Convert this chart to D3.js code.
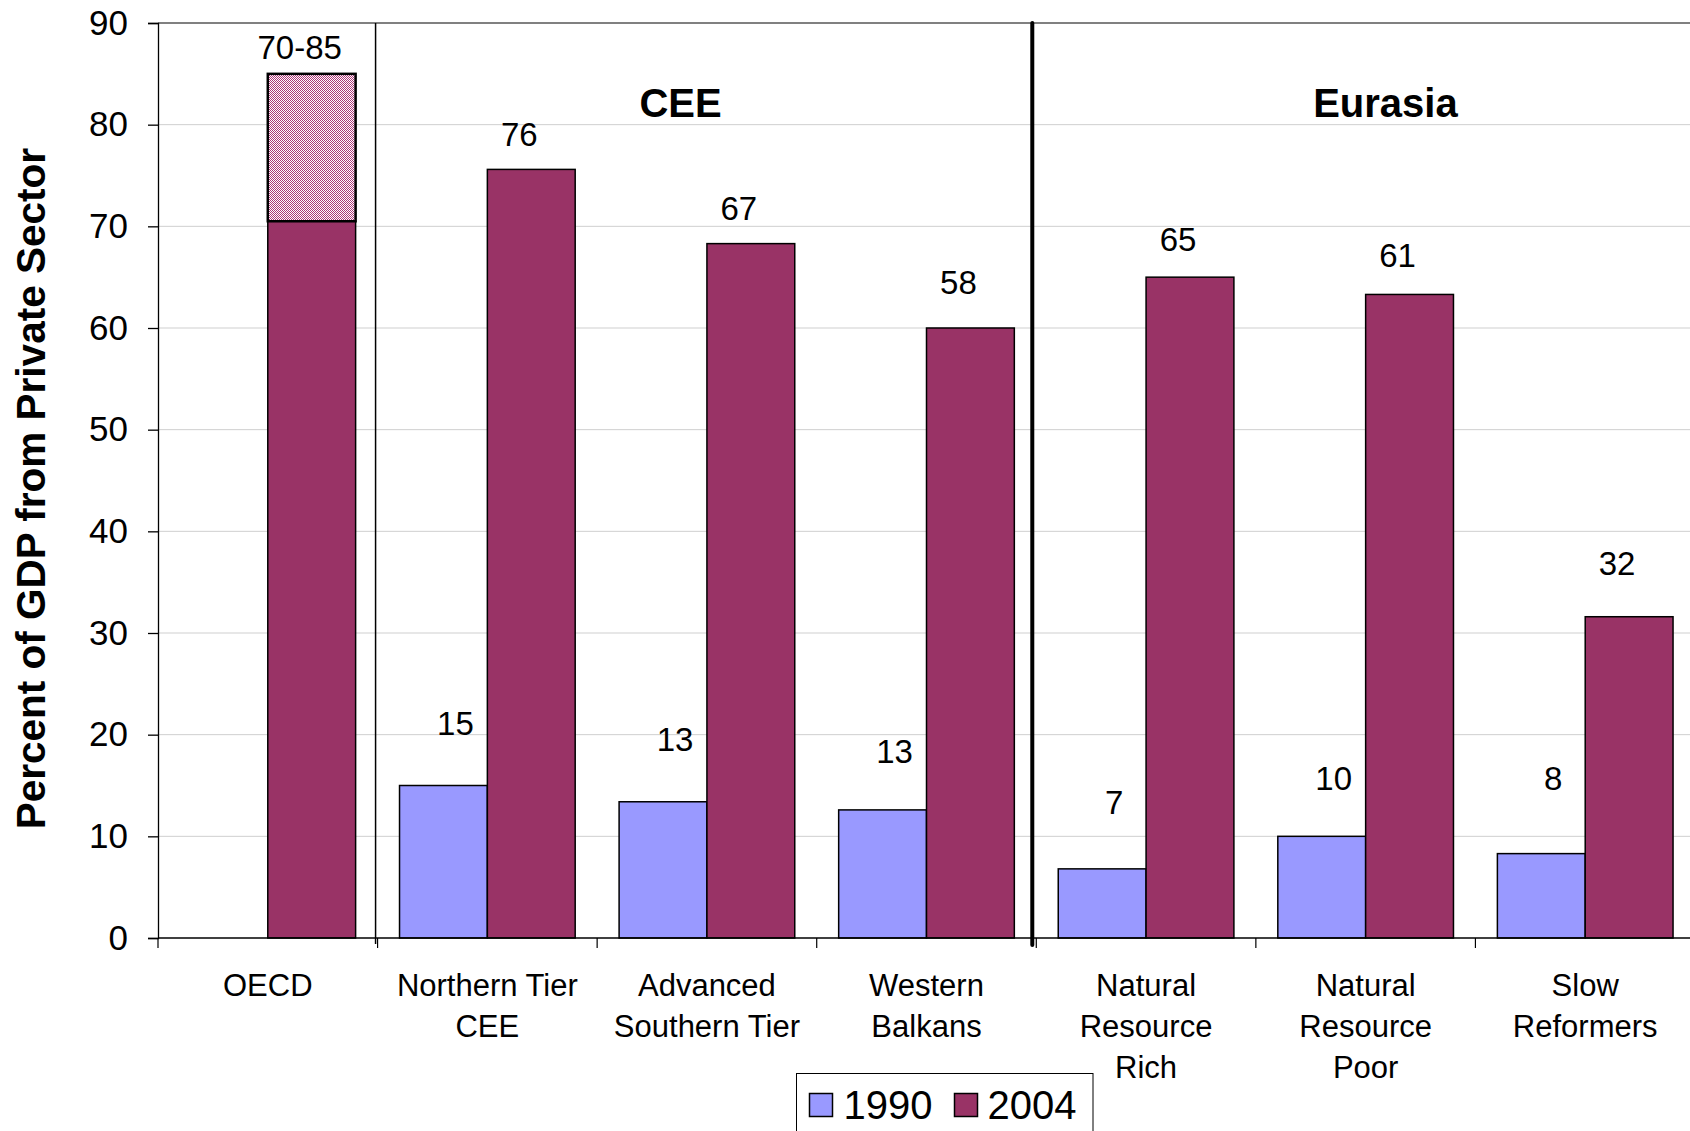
<!DOCTYPE html>
<html>
<head>
<meta charset="utf-8">
<script src="https://cdn.jsdelivr.net/npm/d3@7"></script>
<style>
  body { margin: 0; background: #fff; }
  text { font-family: "Liberation Sans", Arial, sans-serif; fill: #000; }
</style>
</head>
<body>
<svg id="chart"></svg>
<script>
// data
const categories = ["OECD", "Northern Tier CEE", "Advanced Southern Tier", "Western Balkans",
                    "Natural Resource Rich", "Natural Resource Poor", "Slow Reformers"];
const categoryLines = [["OECD"], ["Northern Tier", "CEE"], ["Advanced", "Southern Tier"],
                       ["Western", "Balkans"], ["Natural", "Resource", "Rich"],
                       ["Natural", "Resource", "Poor"], ["Slow", "Reformers"]];
const series = ["1990", "2004"];
const values1990 = [null, 15.0, 13.4, 12.6, 6.8, 10.0, 8.3];
const values2004 = [70.5, 75.6, 68.3, 60.0, 65.0, 63.3, 31.6];
const oecdRange = [70.5, 85];
const labels1990 = ["", "15", "13", "13", "7", "10", "8"];
const labels2004 = ["70-85", "76", "67", "58", "65", "61", "32"];
const labelAt1990 = [null, 21.1, 19.5, 18.3, 13.3, 15.7, 15.7];
const labelAt2004 = [87.6, 79.0, 71.8, 64.5, 68.7, 67.1, 36.8];
const groupNames = ["CEE", "Eurasia"];
const groupAt = [2.38, 5.59];     // in category units
const groupStart = [1, 4];        // first category of each group (separator)
const yTicks = [0, 10, 20, 30, 40, 50, 60, 70, 80, 90];

const width = 1690, height = 1131;
const margin = { left: 158, top: 23, bottom: 193 };
const colors = { "1990": "#9999ff", "2004": "#993366" };

const svg = d3.select("#chart").attr("width", width).attr("height", height);
svg.append("rect").attr("width", width).attr("height", height).attr("fill", "#fff");

const defs = svg.append("defs");
const pat = defs.append("pattern").attr("id", "dots")
    .attr("width", 2).attr("height", 2).attr("patternUnits", "userSpaceOnUse");
pat.append("rect").attr("width", 2).attr("height", 2).attr("fill", "#fff");
pat.append("rect").attr("width", 1).attr("height", 1).attr("fill", "#ad3777");
pat.append("rect").attr("x", 1).attr("y", 1).attr("width", 1).attr("height", 1).attr("fill", "#ad3777");

const plotRight = 1695;
const x = d3.scaleBand().domain(categories).range([margin.left, plotRight]);
const xi = d3.scaleLinear().domain([0, categories.length]).range([margin.left, plotRight]);
const x1 = d3.scaleBand().domain(series).range([0, x.bandwidth()]).paddingOuter(0.25);
const y = d3.scaleLinear().domain([0, 90]).range([height - margin.bottom, margin.top]);

// gridlines
svg.append("g").selectAll("line").data(yTicks.filter(d => d > 0 && d < 90)).join("line")
    .attr("x1", margin.left).attr("x2", width)
    .attr("y1", d => y(d)).attr("y2", d => y(d))
    .attr("stroke", "#cfcfcf").attr("stroke-width", 1);
svg.append("line").attr("x1", margin.left).attr("x2", width)
    .attr("y1", y(90)).attr("y2", y(90))
    .attr("stroke", "#808080").attr("stroke-width", 2);

// bars
const bars = svg.append("g").attr("stroke", "#000").attr("stroke-width", 1.5);
bars.selectAll(".b1990").data(categories.map((c, i) => ({ c, v: values1990[i] })).filter(d => d.v != null))
  .join("rect")
    .attr("x", d => x(d.c) + x1("1990")).attr("width", x1.bandwidth())
    .attr("y", d => y(d.v)).attr("height", d => y(0) - y(d.v))
    .attr("fill", colors["1990"]);
bars.selectAll(".b2004").data(categories.map((c, i) => ({ c, v: values2004[i] })))
  .join("rect")
    .attr("x", d => x(d.c) + x1("2004")).attr("width", x1.bandwidth())
    .attr("y", d => y(d.v)).attr("height", d => y(0) - y(d.v))
    .attr("fill", colors["2004"]);
// OECD range on top
svg.append("rect")
    .attr("x", x("OECD") + x1("2004")).attr("width", x1.bandwidth())
    .attr("y", y(oecdRange[1])).attr("height", y(oecdRange[0]) - y(oecdRange[1]))
    .attr("fill", "url(#dots)").attr("stroke", "#000").attr("stroke-width", 2.5);

// group separators
svg.append("line")
    .attr("x1", xi(groupStart[0]) - 2).attr("x2", xi(groupStart[0]) - 2)
    .attr("y1", y(90)).attr("y2", y(0) + 6)
    .attr("stroke", "#000").attr("stroke-width", 1.5);
svg.append("line")
    .attr("x1", xi(groupStart[1]) - 4).attr("x2", xi(groupStart[1]) - 4)
    .attr("y1", y(90)).attr("y2", y(0) + 7)
    .attr("stroke", "#000").attr("stroke-width", 4).attr("stroke-linecap", "round");

// y axis
const yAxis = svg.append("g").attr("transform", `translate(${margin.left},0)`)
    .call(d3.axisLeft(y).tickValues(yTicks).tickSize(10).tickPadding(20));
yAxis.select(".domain").attr("stroke", "#000").attr("stroke-width", 1.3);
yAxis.selectAll(".tick line").attr("stroke", "#000").attr("stroke-width", 1.3);
yAxis.selectAll(".tick text").attr("font-size", 35).attr("font-family", null).attr("fill", "#000");

// x axis
svg.append("line").attr("x1", margin.left).attr("x2", width)
    .attr("y1", y(0)).attr("y2", y(0)).attr("stroke", "#000").attr("stroke-width", 1.5);
svg.append("g").selectAll("line").data(d3.range(categories.length)).join("line")
    .attr("x1", d => xi(d)).attr("x2", d => xi(d))
    .attr("y1", y(0)).attr("y2", y(0) + 10)
    .attr("stroke", "#000").attr("stroke-width", 1.2);
const xl = svg.append("g").selectAll("text").data(categories).join("text")
    .attr("text-anchor", "middle").attr("font-size", 31)
    .attr("x", d => x(d) + x.bandwidth() / 2);
xl.selectAll("tspan").data((d, i) => categoryLines[i]).join("tspan")
    .attr("x", function () { return this.parentNode.getAttribute("x"); })
    .attr("y", (d, j) => 985 + j * 41)
    .attr("dominant-baseline", "central")
    .text(d => d);

// value labels
const shift = 12;
svg.append("g").selectAll("text").data(categories.map((c, i) => ({ c, t: labels1990[i], at: labelAt1990[i] })).filter(d => d.t))
  .join("text")
    .attr("x", d => x(d.c) + x1("1990") + x1.bandwidth() / 2 + shift)
    .attr("y", d => y(d.at)).attr("dominant-baseline", "central")
    .attr("text-anchor", "middle").attr("font-size", 33).text(d => d.t);
svg.append("g").selectAll("text").data(categories.map((c, i) => ({ c, t: labels2004[i], at: labelAt2004[i] })))
  .join("text")
    .attr("x", d => x(d.c) + x1("2004") + x1.bandwidth() / 2 - shift)
    .attr("y", d => y(d.at)).attr("dominant-baseline", "central")
    .attr("text-anchor", "middle").attr("font-size", 33).text(d => d.t);

// group labels
svg.append("g").selectAll("text").data(groupNames).join("text")
    .attr("x", (d, i) => xi(groupAt[i])).attr("y", y(82.1))
    .attr("dominant-baseline", "central").attr("text-anchor", "middle")
    .attr("font-size", 40).attr("font-weight", "bold").text(d => d);

// y title
svg.append("text")
    .attr("transform", `translate(31,${y(44.2)}) rotate(-90)`)
    .attr("text-anchor", "middle").attr("dominant-baseline", "central")
    .attr("font-size", 40.5).attr("font-weight", "bold")
    .text("Percent of GDP from Private Sector");

// legend
const lg = svg.append("g").attr("transform", "translate(796.5,1073.5)");
lg.append("rect").attr("width", 296.5).attr("height", 80)
    .attr("fill", "#fff").attr("stroke", "#000").attr("stroke-width", 1);
const items = [{ s: "1990", sx: 13, tx: 47 }, { s: "2004", sx: 158, tx: 191 }];
lg.selectAll(".sw").data(items).join("rect")
    .attr("x", d => d.sx).attr("y", 20).attr("width", 23).attr("height", 23)
    .attr("fill", d => colors[d.s]).attr("stroke", "#000").attr("stroke-width", 1.5);
lg.selectAll(".lt").data(items).join("text")
    .attr("x", d => d.tx).attr("y", 31).attr("dominant-baseline", "central")
    .attr("font-size", 40).text(d => d.s);
</script>
</body>
</html>
